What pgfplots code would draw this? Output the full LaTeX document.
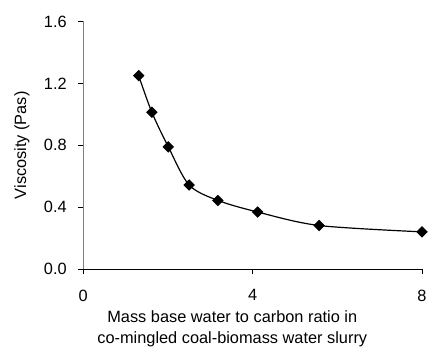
\documentclass[border=0pt]{standalone}
\usepackage{pgfplots}
\pgfplotsset{compat=1.18}
\usepackage{fontspec}
\setmainfont{Liberation Sans}
\begin{document}
\fontsize{16.5}{20}\selectfont
\begin{tikzpicture}
\begin{axis}[
  scale only axis, width=342pt, height=250pt,
  xmin=0, xmax=8, ymin=0, ymax=1.6,
  xtick={0,4,8}, ytick={0,0.4,0.8,1.2,1.6},
  axis x line=bottom, axis y line=left, axis line style={-},
  x axis line style={black, line width=0.8pt},
  y axis line style={gray, line width=0.8pt},
  tick style={black, line width=0.6pt}, tick align=outside, major tick length=5pt,
  /pgf/number format/assume math mode=true,
  yticklabel style={xshift=-6pt, /pgf/number format/fixed, /pgf/number format/fixed zerofill, /pgf/number format/precision=1},
  ticklabel style={font=\fontsize{16.5}{18}\selectfont},
  xticklabel style={yshift=-10pt},
  xlabel={Mass base water to carbon ratio in\\co-mingled coal-biomass water slurry},
  xlabel style={align=center, font=\fontsize{16.5}{21}\selectfont, at={(axis description cs:0.44,-0.24)}, anchor=center},
  ylabel={Viscosity (Pas)},
  ylabel style={font=\fontsize{16.5}{18}\selectfont, at={(axis description cs:-0.181,0.5)}, anchor=center},
]
\addplot[black, line width=1.2pt, smooth, mark=square*, mark size=3.5pt, mark options={rotate=45, solid}] coordinates {
  (1.31,1.25) (1.62,1.014) (2.01,0.79) (2.50,0.544) (3.18,0.444) (4.12,0.369) (5.57,0.282) (8.0,0.241)
};
\end{axis}
\path[use as bounding box] ([xshift=-84pt,yshift=-86.3pt]current axis.south west) rectangle ([xshift=6pt,yshift=21.7pt]current axis.north east);
\end{tikzpicture}
\end{document}
